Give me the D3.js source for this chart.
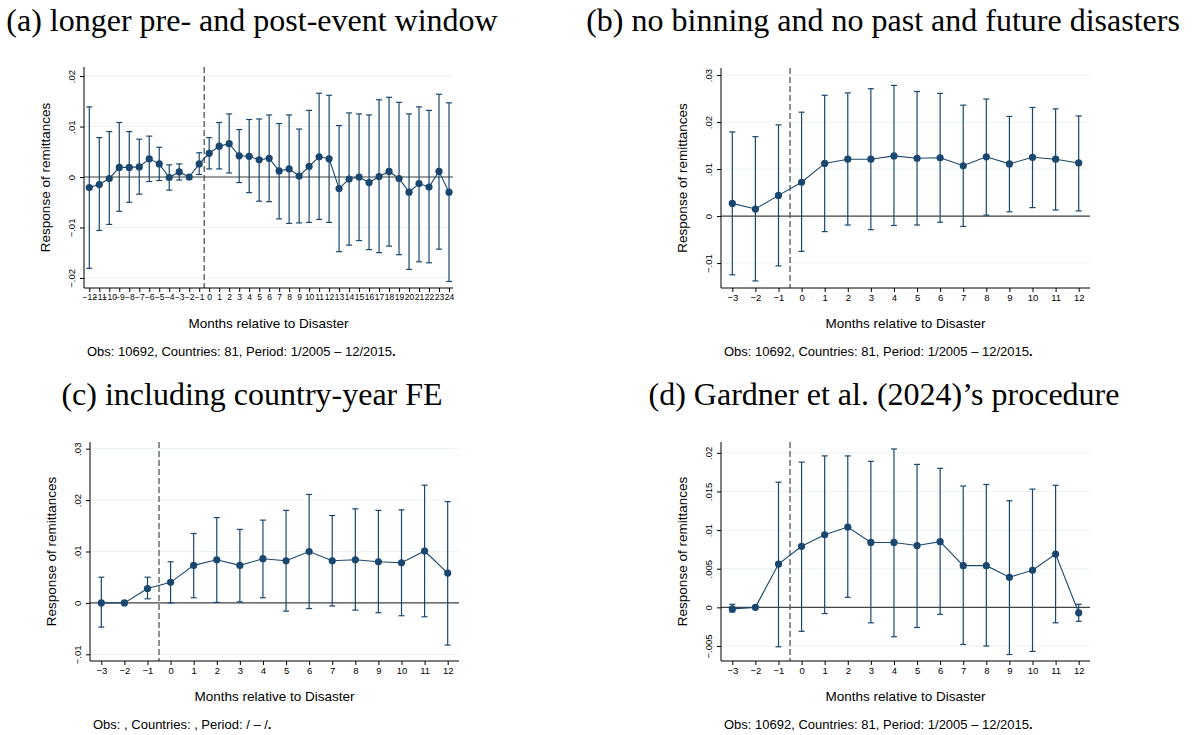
<!DOCTYPE html>
<html>
<head>
<meta charset="utf-8">
<script src="https://cdn.jsdelivr.net/npm/d3@7"></script>
<style>
  body { margin: 0; background: #fff; }
  svg { display: block; }
  .ttl { font-family: "Liberation Serif", serif; font-size: 32px; fill: #000; }
  .lbl { font-family: "Liberation Sans", Arial, sans-serif; fill: #000; }
</style>
</head>
<body>
<svg id="area" width="1195" height="735"></svg>
<script>
// panel (a): longer window, -12 .. 24
const monthsA = d3.range(-12, 25);
const coefA = [-0.0021,-0.0015,-0.0003,0.0019,0.0019,0.0020,0.0036,0.0026,-0.0001,0.0010,0,0.0026,
  0.0047,0.0061,0.0066,0.0042,0.0041,0.0034,0.0037,0.0012,0.0016,0.0002,0.0021,0.0040,0.0036,
  -0.0023,-0.0004,0.0000,-0.0011,0.0001,0.0011,-0.0003,-0.0030,-0.0013,-0.0020,0.0011,-0.0030];
const loA = [-0.0181,-0.0106,-0.0094,-0.0068,-0.0050,-0.0034,-0.0009,-0.0007,-0.0026,-0.0006,null,0.0005,
  0.0016,0.0016,0.0008,-0.0011,-0.0031,-0.0048,-0.0049,-0.0083,-0.0092,-0.0091,-0.0090,-0.0084,-0.0090,
  -0.0148,-0.0135,-0.0126,-0.0144,-0.0150,-0.0137,-0.0154,-0.0183,-0.0168,-0.0170,-0.0143,-0.0207];
const hiA = [0.0139,0.0078,0.0090,0.0108,0.0090,0.0075,0.0081,0.0059,0.0024,0.0026,null,0.0048,
  0.0078,0.0108,0.0125,0.0094,0.0114,0.0115,0.0123,0.0106,0.0123,0.0095,0.0132,0.0166,0.0162,
  0.0102,0.0127,0.0125,0.0123,0.0153,0.0158,0.0148,0.0125,0.0139,0.0132,0.0164,0.0147];
const yTicksA = [-0.02, -0.01, 0, 0.01, 0.02];
const yLabelsA = ["\u2212.02", "\u2212.01", "0", ".01", ".02"];

// panels (b), (c), (d): -3 .. 12
const monthsShort = d3.range(-3, 13);
const coefB = [0.0027,0.0015,0.0044,0.0072,0.0112,0.0121,0.0121,0.0128,0.0123,0.0124,0.0107,0.0126,0.0111,0.0125,0.0121,0.0113];
const loB = [-0.0125,-0.0138,-0.0106,-0.0075,-0.0033,-0.0019,-0.0029,-0.0020,-0.0019,-0.0013,-0.0022,0.0002,0.0009,0.0018,0.0013,0.0011];
const hiB = [0.0179,0.0169,0.0194,0.0221,0.0257,0.0262,0.0271,0.0278,0.0265,0.0261,0.0236,0.0249,0.0212,0.0231,0.0228,0.0213];
const yTicksB = [-0.01, 0, 0.01, 0.02, 0.03];
const yLabelsB = ["\u2212.01", "0", ".01", ".02", ".03"];

const coefC = [0,0,0.0028,0.0040,0.0073,0.0084,0.0073,0.0086,0.0082,0.0100,0.0082,0.0084,0.0080,0.0078,0.0101,0.0058];
const loC = [-0.0047,null,0.0008,0.0000,0.0010,0.0001,0.0002,0.0010,-0.0016,-0.0011,-0.0006,-0.0014,-0.0019,-0.0025,-0.0027,-0.0082];
const hiC = [0.0050,null,0.0050,0.0080,0.0135,0.0166,0.0143,0.0161,0.0180,0.0211,0.0170,0.0183,0.0180,0.0181,0.0229,0.0197];
const yTicksC = [-0.01, 0, 0.01, 0.02, 0.03];
const yLabelsC = ["\u2212.01", "0", ".01", ".02", ".03"];

const coefD = [-0.0002,0,0.0056,0.0079,0.0094,0.0104,0.0084,0.0084,0.0080,0.0085,0.0054,0.0054,0.0039,0.0048,0.0069,-0.0007];
const loD = [-0.0006,null,-0.0051,-0.0031,-0.0008,0.0013,-0.0020,-0.0038,-0.0026,-0.0009,-0.0048,-0.0050,-0.0061,-0.0057,-0.0020,-0.0018];
const hiD = [0.0004,null,0.0162,0.0188,0.0196,0.0196,0.0189,0.0205,0.0185,0.0180,0.0157,0.0159,0.0138,0.0153,0.0158,0.0004];
const yTicksD = [-0.005, 0, 0.005, 0.01, 0.015, 0.02];
const yLabelsD = ["\u2212.005", "0", ".005", ".01", ".015", ".02"];

const titles = [
  "(a) longer pre- and post-event window",
  "(b) no binning and no past and future disasters",
  "(c) including country-year FE",
  "(d) Gardner et al. (2024)\u2019s procedure"
];
const notes = [
  "Obs: 10692, Countries: 81, Period: 1/2005 \u2013 12/2015",
  "Obs: 10692, Countries: 81, Period: 1/2005 \u2013 12/2015",
  "Obs: , Countries: , Period: / \u2013 /",
  "Obs: 10692, Countries: 81, Period: 1/2005 \u2013 12/2015"
];

const navy = "#1a476f";
const svg = d3.select("#area");

const panels = [
  {months: monthsA, coef: coefA, lo: loA, hi: hiA, yt: yTicksA, yl: yLabelsA,
   x0: 84, x1: 453, y0: 67, y1: 288, xd: [-12.53, 24.4], yd: [-0.022, 0.0218],
   titleX: 252, titleY: 31, xfs: 8.5},
  {months: monthsShort, coef: coefB, lo: loB, hi: hiB, yt: yTicksB, yl: yLabelsB,
   x0: 721, x1: 1090, y0: 68, y1: 288, xd: [-3.49, 12.49], yd: [-0.0153, 0.0315],
   titleX: 883, titleY: 31, xfs: 9.5},
  {months: monthsShort, coef: coefC, lo: loC, hi: hiC, yt: yTicksC, yl: yLabelsC,
   x0: 90, x1: 459, y0: 442, y1: 661, xd: [-3.49, 12.49], yd: [-0.0113, 0.0313],
   titleX: 252, titleY: 405, xfs: 9.5},
  {months: monthsShort, coef: coefD, lo: loD, hi: hiD, yt: yTicksD, yl: yLabelsD,
   x0: 721, x1: 1090, y0: 442, y1: 661, xd: [-3.49, 12.49], yd: [-0.00694, 0.0214],
   titleX: 884, titleY: 405, xfs: 9.5}
];

panels.forEach((p, k) => {
  const g = svg.append("g").attr("class", "chart");
  const x = d3.scaleLinear().domain(p.xd).range([p.x0, p.x1]);
  const y = d3.scaleLinear().domain(p.yd).range([p.y1, p.y0]);

  // title
  g.append("text").attr("class", "ttl")
    .attr("x", p.titleX).attr("y", p.titleY)
    .attr("text-anchor", "middle").text(titles[k]);

  // grid
  g.selectAll(".grid").data(p.yt).enter().append("line")
    .attr("x1", p.x0).attr("x2", p.x1)
    .attr("y1", d => y(d)).attr("y2", d => y(d))
    .attr("stroke", "#eaf2f3").attr("stroke-width", 1);

  // zero line
  g.append("line")
    .attr("x1", p.x0).attr("x2", p.x1)
    .attr("y1", y(0)).attr("y2", y(0))
    .attr("stroke", "#444").attr("stroke-width", 1.2);

  // event line
  g.append("line")
    .attr("x1", x(-0.5)).attr("x2", x(-0.5))
    .attr("y1", p.y0).attr("y2", p.y1)
    .attr("stroke", "#555").attr("stroke-width", 1.3)
    .attr("stroke-dasharray", "6,3");

  // axes
  const yAxis = d3.axisLeft(y).tickValues(p.yt)
    .tickFormat((d, i) => p.yl[i]).tickSize(4).tickSizeOuter(0);
  const ya = g.append("g").attr("class", "axis")
    .attr("transform", "translate(" + p.x0 + ",0)").call(yAxis);
  ya.select(".domain").attr("d", "M0," + p.y0 + "V" + p.y1);
  ya.selectAll("text")
    .attr("class", "lbl").style("font-size", "9.5px")
    .attr("transform", "translate(-12,0) rotate(-90)")
    .attr("x", 0).attr("y", 0).attr("dy", "0.35em")
    .attr("text-anchor", "middle");

  const xAxis = d3.axisBottom(x).tickValues(p.months)
    .tickFormat(d => d < 0 ? "\u2212" + (-d) : String(d)).tickSize(4).tickSizeOuter(0);
  const xa = g.append("g").attr("class", "axis")
    .attr("transform", "translate(0," + p.y1 + ")").call(xAxis);
  xa.select(".domain").attr("d", "M" + p.x0 + ",0H" + p.x1);
  xa.selectAll("text").attr("class", "lbl").style("font-size", p.xfs + "px").attr("y", 6);
  g.selectAll(".axis path, .axis line").attr("stroke", "#000");

  // axis titles
  g.append("text").attr("class", "lbl").style("font-size", "13.5px")
    .attr("text-anchor", "middle")
    .attr("transform", "translate(" + (p.x0 - 34) + "," + ((p.y0 + p.y1) / 2) + ") rotate(-90)")
    .text("Response of remittances");
  g.append("text").attr("class", "lbl").style("font-size", "13.5px")
    .attr("text-anchor", "middle")
    .attr("x", (p.x0 + p.x1) / 2).attr("y", p.y1 + 40)
    .text("Months relative to Disaster");

  const note = g.append("text").attr("class", "lbl").style("font-size", "13px")
    .attr("x", p.x0 + 3).attr("y", p.y1 + 68);
  note.append("tspan").text(notes[k]);
  note.append("tspan").attr("font-weight", "bold").text(".");

  // error bars
  const rows = p.months.map((m, i) => ({m: m, c: p.coef[i], lo: p.lo[i], hi: p.hi[i]}));
  const withCI = rows.filter(d => d.lo !== null);
  const cap = 3;
  const eb = g.append("g").attr("stroke", navy).attr("stroke-width", 1.2).attr("fill", "none");
  eb.selectAll(".v").data(withCI).enter().append("line")
    .attr("x1", d => x(d.m)).attr("x2", d => x(d.m))
    .attr("y1", d => y(d.lo)).attr("y2", d => y(d.hi));
  eb.selectAll(".t").data(withCI).enter().append("line")
    .attr("x1", d => x(d.m) - cap).attr("x2", d => x(d.m) + cap)
    .attr("y1", d => y(d.hi)).attr("y2", d => y(d.hi));
  eb.selectAll(".b").data(withCI).enter().append("line")
    .attr("x1", d => x(d.m) - cap).attr("x2", d => x(d.m) + cap)
    .attr("y1", d => y(d.lo)).attr("y2", d => y(d.lo));

  // coefficient line + markers
  const line = d3.line().x(d => x(d.m)).y(d => y(d.c));
  g.append("path").datum(rows).attr("d", line)
    .attr("fill", "none").attr("stroke", navy).attr("stroke-width", 1.1);
  g.selectAll(".pt").data(rows).enter().append("circle")
    .attr("cx", d => x(d.m)).attr("cy", d => y(d.c))
    .attr("r", 3.6).attr("fill", navy);
});
</script>
</body>
</html>
